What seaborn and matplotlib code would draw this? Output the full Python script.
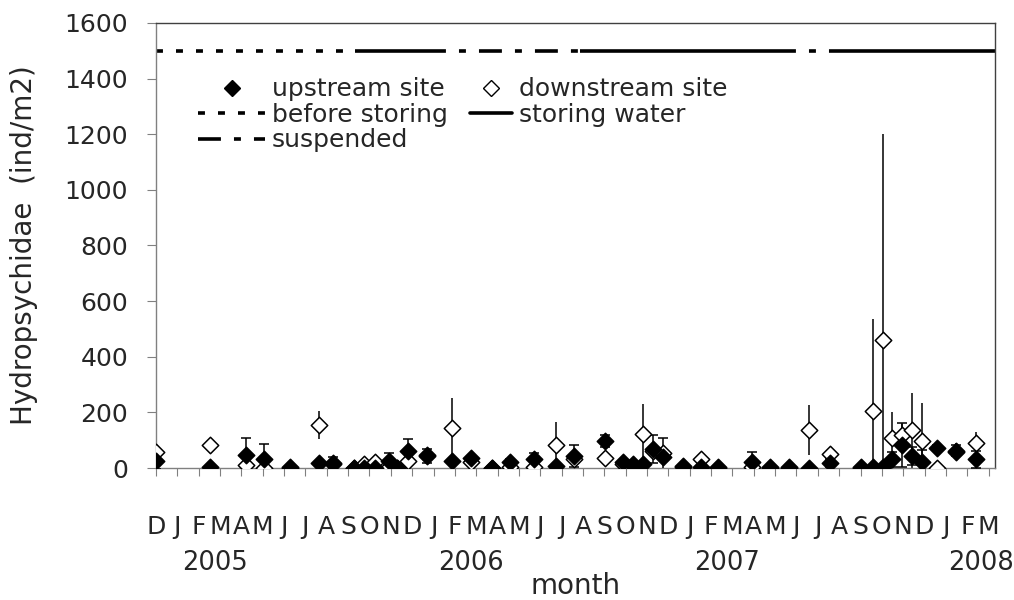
import matplotlib
matplotlib.use('Agg')
import matplotlib.pyplot as plt
from matplotlib.lines import Line2D
import seaborn as sns

# sampling dates, in months counted from 1 Dec 2004
sample_month = [0.0, 2.53, 4.2, 5.07, 6.28, 7.65, 8.27, 9.27, 9.74, 10.26,
                10.93, 11.3, 11.82, 12.68, 13.85, 14.74, 15.75, 16.58, 17.72, 18.74,
                19.58, 21.03, 21.86, 22.33, 22.8, 23.26, 23.73, 24.7, 25.53, 26.34,
                27.9, 28.76, 29.67, 30.6, 31.57, 33.0, 33.6, 34.07, 34.49, 34.96,
                35.43, 35.9, 36.6, 37.47, 38.4]
upstream = [26, 3, 47, 31, 2, 17, 19, 0, 0, 0,
            26, 0, 62, 43, 26, 35, 0, 22, 31, 7,
            43, 97, 20, 11, 13, 67, 38, 7, 2, 2,
            23, 2, 2, 0, 19, 2, 5, 5, 31, 83,
            43, 23, 71, 62, 31]
upstream_err = [30, 0, 62, 54, 0, 0, 19, 0, 0, 0,
                29, 0, 42, 24, 0, 0, 0, 12, 23, 0,
                40, 20, 0, 0, 0, 50, 69, 0, 0, 0,
                36, 0, 0, 0, 15, 0, 0, 0, 28, 78,
                33, 40, 10, 20, 30]
downstream = [59, 83, 11, 0, 0, 155, 15, 0, 13, 23,
              5, 0, 26, 47, 145, 23, 0, 5, 3, 82,
              31, 35, 15, 13, 122, 60, 55, 5, 31, 0,
              5, 0, 0, 137, 50, 0, 205, 461, 109, 119,
              135, 97, 1, 59, 89]
downstream_err = [18, 0, 24, 5, 0, 50, 0, 0, 0, 0,
                  5, 0, 10, 10, 105, 0, 0, 0, 0, 82,
                  10, 25, 0, 0, 107, 0, 0, 0, 0, 0,
                  10, 0, 0, 90, 15, 0, 332, 740, 91, 40,
                  134, 136, 0, 30, 40]

# reservoir operation periods (drawn as a line at 1500)
phase_name = ['before storing', 'storing water', 'suspended',
              'storing water', 'suspended', 'storing water']
phase_start = [0, 9.32, 12.5, 19.86, 28.9, 32.27]
phase_end = [9.32, 12.5, 19.86, 28.9, 32.27, 39.3]
phase_level = 1500

month_letters = list('DJFMAMJJASONDJFMAMJJASONDJFMAMJJASONDJFM')
years = ['2005', '2006', '2007', '2008']
year_pos = [2.78, 14.76, 26.75, 38.65]

sns.set_theme(style='white')
plt.rcParams['font.family'] = ['DejaVu Sans']
plt.rcParams['lines.scale_dashes'] = False

styles = {'before storing': (0, (5, 9.4)),
          'storing water': '-',
          'suspended': (0, (16.5, 9.4, 5, 9.4))}

fig, ax = plt.subplots(figsize=(10.14, 6.0), dpi=100)
fig.subplots_adjust(left=0.1538, right=0.9813, top=0.9617, bottom=0.22)

for name, a, b in zip(phase_name, phase_start, phase_end):
    ax.plot([a, b], [phase_level, phase_level], color='black', lw=2.6,
            linestyle=styles[name], solid_capstyle='butt', dash_capstyle='butt')

ax.errorbar(sample_month, downstream, yerr=downstream_err, fmt='none',
            ecolor='black', elinewidth=1.1, capsize=0, zorder=2)
ax.errorbar(sample_month, upstream, yerr=upstream_err, fmt='none',
            ecolor='black', elinewidth=1.1, capsize=3.6, capthick=1.1, zorder=3)
sns.scatterplot(x=sample_month, y=downstream, marker='D', s=70, color='white',
                edgecolor='black', linewidth=1.1, ax=ax, zorder=4)
sns.scatterplot(x=sample_month, y=upstream, marker='D', s=70, color='black',
                edgecolor='black', linewidth=1.1, ax=ax, zorder=5)

ax.set_ylim(0, 1600)
ax.set_yticks(range(0, 1601, 200))
ax.set_xlim(0, 39.3)
ax.set_xticks(range(len(month_letters)))
ax.set_xticklabels(month_letters)
ax.tick_params(axis='y', labelsize=18, direction='out', length=6.5, width=0.8,
               color='#808080', left=True, pad=13.5)
ax.tick_params(axis='x', labelsize=18, direction='out', length=5.5, width=0.8,
               color='#808080', bottom=True, pad=28)

for sp in ['left', 'bottom']:
    ax.spines[sp].set_color('#808080')
for sp in ['top', 'right']:
    ax.spines[sp].set_color('#404040')
for sp in ax.spines.values():
    sp.set_linewidth(1.0)

for y, xp in zip(years, year_pos):
    ax.text(xp, -0.2135, y, transform=ax.get_xaxis_transform(), ha='center',
            va='center', fontsize=18.5)

ax.set_xlabel('month', fontsize=20, va='baseline')
ax.xaxis.set_label_coords(0.5, -0.283)
ax.set_ylabel('Hydropsychidae  (ind/m2)', fontsize=20)
ax.yaxis.set_label_coords(-0.1406, 0.5)

# legend: two separate columns, the second with a shorter handle
col1 = [Line2D([], [], marker='D', color='black', linestyle='none', markersize=8),
        Line2D([], [], color='black', lw=2.6, linestyle=styles['before storing']),
        Line2D([], [], color='black', lw=2.6, linestyle=styles['suspended'])]
col2 = [Line2D([], [], marker='D', markerfacecolor='white', markeredgecolor='black',
               linestyle='none', markersize=8),
        Line2D([], [], color='black', lw=2.6, linestyle=styles['storing water'])]
leg1 = ax.legend(col1, ['upstream site', 'before storing', 'suspended'],
                 loc='upper left', bbox_to_anchor=(0.05, 0.878), frameon=False,
                 fontsize=18, handlelength=2.7, handletextpad=0.25,
                 labelspacing=0.06, borderpad=0, borderaxespad=0)
ax.add_artist(leg1)
ax.legend(col2, ['downstream site', 'storing water'],
          loc='upper left', bbox_to_anchor=(0.374, 0.878), frameon=False,
          fontsize=18, handlelength=1.7, handletextpad=0.25,
          labelspacing=0.06, borderpad=0, borderaxespad=0)

fig.savefig('out.png', dpi=100)
